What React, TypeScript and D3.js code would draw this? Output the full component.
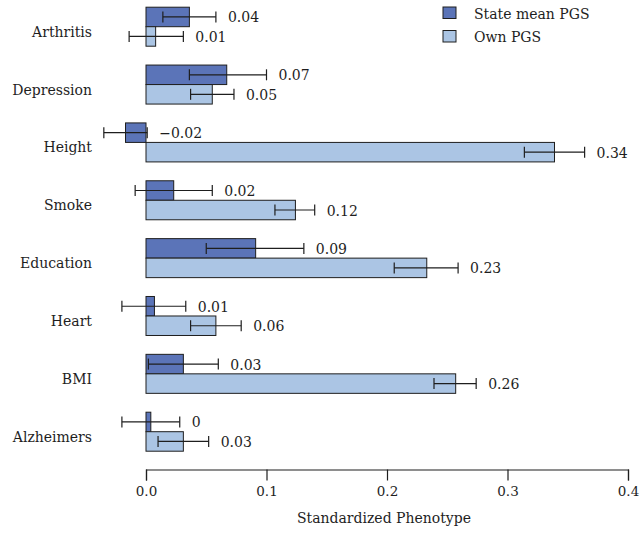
import * as d3 from "d3";
import {useEffect, useRef} from "react";

const categories = ["Arthritis", "Depression", "Height", "Smoke", "Education", "Heart", "BMI", "Alzheimers"];

// state mean PGS estimates and 95% CI
const stateMean = [0.036, 0.067, -0.017, 0.023, 0.091, 0.007, 0.031, 0.004];
const stateLo = [0.014, 0.036, -0.035, -0.009, 0.050, -0.020, 0.002, -0.020];
const stateHi = [0.058, 0.100, 0.001, 0.055, 0.131, 0.033, 0.060, 0.028];
const stateLabels = ["0.04", "0.07", "\u22120.02", "0.02", "0.09", "0.01", "0.03", "0"];

// own PGS estimates and 95% CI
const ownMean = [0.008, 0.055, 0.339, 0.124, 0.233, 0.058, 0.257, 0.031];
const ownLo = [-0.014, 0.037, 0.314, 0.107, 0.206, 0.037, 0.239, 0.010];
const ownHi = [0.031, 0.073, 0.364, 0.140, 0.259, 0.079, 0.274, 0.052];
const ownLabels = ["0.01", "0.05", "0.34", "0.12", "0.23", "0.06", "0.26", "0.03"];

const xTicks = [0, 0.1, 0.2, 0.3, 0.4];
const seriesNames = ["State mean PGS", "Own PGS"];

const W = 642;
const H = 536;
const FONT = "'DejaVu Serif', serif";
const DARK = "#5b74b8";
const LIGHT = "#abc5e4";
const INK = "#1e1e1e";

export default function App() {
    const ref = useRef<SVGSVGElement>(null);

    useEffect(() => {
        const svg = d3.select(ref.current);
        svg.selectAll("*").remove();

        const x = d3.scaleLinear().domain([0, 0.4]).range([146, 628]);
        const y = d3.scalePoint<string>().domain(categories).range([26.7, 431.7]);
        const inner = d3.scaleBand<string>().domain(["state", "own"]).range([-19.5, 19.5]);
        const bh = inner.bandwidth();

        const series = [
            {key: "state", mean: stateMean, lo: stateLo, hi: stateHi, labels: stateLabels, color: DARK},
            {key: "own", mean: ownMean, lo: ownLo, hi: ownHi, labels: ownLabels, color: LIGHT},
        ];

        // category labels
        svg.append("g")
            .selectAll("text")
            .data(categories)
            .join("text")
            .attr("x", 92)
            .attr("y", d => (y(d) ?? 0) + 10)
            .attr("text-anchor", "end")
            .attr("font-family", FONT)
            .attr("font-size", 14)
            .attr("fill", INK)
            .text(d => d);

        series.forEach(s => {
            const g = svg.append("g");
            const rows = categories.map((c, i) => ({c, i}));
            // bars
            g.selectAll("rect")
                .data(rows)
                .join("rect")
                .attr("x", d => Math.min(x(0), x(s.mean[d.i])))
                .attr("y", d => (y(d.c) ?? 0) + (inner(s.key) ?? 0))
                .attr("width", d => Math.abs(x(s.mean[d.i]) - x(0)))
                .attr("height", bh)
                .attr("fill", s.color)
                .attr("stroke", INK)
                .attr("stroke-width", 1);

            const cy = (c: string) => (y(c) ?? 0) + (inner(s.key) ?? 0) + bh / 2;

            // error bars
            g.selectAll("line.err")
                .data(rows)
                .join("line")
                .attr("class", "err")
                .attr("x1", d => x(s.lo[d.i]))
                .attr("x2", d => x(s.hi[d.i]))
                .attr("y1", d => cy(d.c))
                .attr("y2", d => cy(d.c))
                .attr("stroke", INK)
                .attr("stroke-width", 1.2);
            ["lo", "hi"].forEach(end => {
                const arr = end === "lo" ? s.lo : s.hi;
                g.selectAll(`line.cap-${end}`)
                    .data(rows)
                    .join("line")
                    .attr("class", `cap-${end}`)
                    .attr("x1", d => x(arr[d.i]))
                    .attr("x2", d => x(arr[d.i]))
                    .attr("y1", d => cy(d.c) - 5.5)
                    .attr("y2", d => cy(d.c) + 5.5)
                    .attr("stroke", INK)
                    .attr("stroke-width", 1.2);
            });

            // value labels
            g.selectAll("text")
                .data(rows)
                .join("text")
                .attr("x", d => x(Math.max(s.hi[d.i], s.mean[d.i])) + 12)
                .attr("y", d => cy(d.c) + 5.5)
                .attr("font-family", FONT)
                .attr("font-size", 14)
                .attr("fill", INK)
                .text(d => s.labels[d.i]);
        });

        // x axis
        const axis = svg.append("g")
            .attr("transform", "translate(0,469.5)")
            .call(d3.axisBottom(x).tickValues(xTicks).tickFormat(d3.format(".1f")).tickSizeOuter(0).tickSize(11).tickPadding(6));
        axis.select(".domain").attr("stroke", INK).attr("stroke-width", 1.2);
        axis.selectAll(".tick line").attr("stroke", INK).attr("stroke-width", 1.2);
        axis.selectAll(".tick text")
            .attr("font-family", FONT)
            .attr("font-size", 13.5)
            .attr("fill", INK);

        svg.append("text")
            .attr("x", 384)
            .attr("y", 523)
            .attr("text-anchor", "middle")
            .attr("font-family", FONT)
            .attr("font-size", 14)
            .attr("fill", INK)
            .text("Standardized Phenotype");

        // legend
        const legend = svg.append("g").attr("transform", "translate(443,7)");
        const ly = d3.scalePoint<string>().domain(seriesNames).range([0, 23.5]);
        legend.selectAll("rect")
            .data(seriesNames)
            .join("rect")
            .attr("x", 0)
            .attr("y", d => ly(d) ?? 0)
            .attr("width", 13)
            .attr("height", 11.5)
            .attr("fill", (d, i) => i === 0 ? DARK : LIGHT)
            .attr("stroke", INK)
            .attr("stroke-width", 1);
        legend.selectAll("text")
            .data(seriesNames)
            .join("text")
            .attr("x", 31)
            .attr("y", d => (ly(d) ?? 0) + 11.5)
            .attr("font-family", FONT)
            .attr("font-size", 14)
            .attr("fill", INK)
            .text(d => d);
    }, []);

    return <svg ref={ref} width={W} height={H} style={{position: "absolute", left: 0, top: 0, background: "#fff"}}/>;
}
